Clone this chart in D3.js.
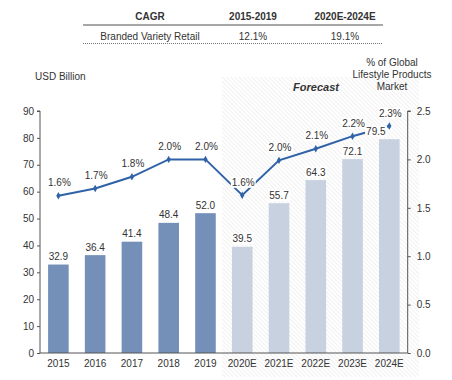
<!DOCTYPE html>
<html><head><meta charset="utf-8">
<script src="https://cdn.jsdelivr.net/npm/d3@7"></script>
<style>
body{margin:0;background:#fff;}
svg{font-family:"Liberation Sans",Arial,Helvetica,sans-serif;}
</style></head>
<body><svg id="c" width="452" height="380"></svg>
<script>
const years = ["2015","2016","2017","2018","2019","2020E","2021E","2022E","2023E","2024E"];
const marketSize = [32.9,36.4,41.4,48.4,52.0,39.5,55.7,64.3,72.1,79.5];
const sharePct = [1.625,1.70,1.82,2.00,2.00,1.63,1.99,2.11,2.24,2.345];
const shareLabels = ["1.6%","1.7%","1.8%","2.0%","2.0%","1.6%","2.0%","2.1%","2.2%","2.3%"];
const forecastYears = ["2020E","2021E","2022E","2023E","2024E"];
const leftTicks = [0,10,20,30,40,50,60,70,80,90];
const rightTicks = [0,0.5,1.0,1.5,2.0,2.5];
const cagrHeader = ["CAGR","2015-2019","2020E-2024E"];
const cagrRow = ["Branded Variety Retail","12.1%","19.1%"];

const svg = d3.select("#c");
const L = 40, R = 407.7, T = 111, B = 353;
const x = d3.scaleBand().domain(years).range([L,R]).paddingInner(0.44).paddingOuter(0.22);
const yL = d3.scaleLinear().domain([0,90]).range([B,T]);
const yR = d3.scaleLinear().domain([0,2.5]).range([B,T]);
const txt = "#333", axc = "#555";

// hatch pattern
const defs = svg.append("defs");
const pat = defs.append("pattern").attr("id","hatch").attr("patternUnits","userSpaceOnUse")
  .attr("width",3).attr("height",3).attr("patternTransform","rotate(-45)");
pat.append("rect").attr("width",3).attr("height",3).attr("fill","#fff");
pat.append("line").attr("x1",0).attr("y1",0).attr("x2",0).attr("y2",3).attr("stroke","#e6e6e6").attr("stroke-width",1.1);

// forecast region
const fx0 = x(forecastYears[0]) - (x.step()-x.bandwidth())/2 - 2;
svg.append("rect").attr("x",fx0).attr("y",77).attr("width",419-fx0).attr("height",300).attr("fill","url(#hatch)");
svg.append("text").attr("x",316).attr("y",91).attr("text-anchor","middle")
  .attr("font-size",11).attr("font-weight","bold").attr("font-style","italic").attr("fill",txt).text("Forecast");

// table
const colX = [150,253,345];
cagrHeader.forEach((t,i)=>svg.append("text").attr("x",colX[i]).attr("y",19.5).attr("text-anchor","middle")
  .attr("font-size",10).attr("font-weight","bold").attr("fill",txt).text(t));
svg.append("line").attr("x1",83).attr("x2",383).attr("y1",25).attr("y2",25).attr("stroke","#8a8a8a").attr("stroke-width",1.5);
cagrRow.forEach((t,i)=>svg.append("text").attr("x",colX[i]).attr("y",39.5).attr("text-anchor","middle")
  .attr("font-size",10).attr("fill",txt).text(t));
svg.append("line").attr("x1",83).attr("x2",383).attr("y1",43.5).attr("y2",43.5).attr("stroke","#555").attr("stroke-width",0.8).attr("stroke-dasharray","1,1");

// axis titles
svg.append("text").attr("x",35).attr("y",79.5).attr("font-size",10).attr("fill",txt).text("USD Billion");
["% of Global","Lifestyle Products","Market"].forEach((t,i)=>svg.append("text").attr("x",392).attr("y",66+i*12)
  .attr("text-anchor","middle").attr("font-size",10).attr("fill",txt).text(t));

// bars
svg.append("g").selectAll("rect").data(years).join("rect")
  .attr("x",d=>x(d)).attr("width",x.bandwidth())
  .attr("y",(d,i)=>yL(marketSize[i])).attr("height",(d,i)=>B-yL(marketSize[i]))
  .attr("fill",d=>forecastYears.includes(d)?"#c7d1e0":"#7590b8");

// axes
const gl = svg.append("g").attr("transform",`translate(${L},0)`)
  .call(d3.axisLeft(yL).tickValues(leftTicks).tickSize(3).tickPadding(3));
const gr = svg.append("g").attr("transform",`translate(${R},0)`)
  .call(d3.axisRight(yR).tickValues(rightTicks).tickFormat(d3.format(".1f")).tickSize(3).tickPadding(6));
const gx = svg.append("g").attr("transform",`translate(0,${B})`)
  .call(d3.axisBottom(x).tickSize(0).tickPadding(7));
[gl,gr,gx].forEach(g=>{
  g.selectAll("text").attr("font-size",10).attr("fill",txt).attr("font-family","Liberation Sans,Arial,sans-serif");
  g.selectAll("line").attr("stroke",axc);
  g.select(".domain").attr("stroke",axc);
});
gl.select(".domain").attr("d",`M-3,${T}H0V${B}`);
gr.select(".domain").attr("d",`M3,${T}H0V${B}`);
gx.select(".domain").attr("d",`M${L},0H${R}`);

// line
const cx = d=>x(d)+x.bandwidth()/2;
const line = d3.line().x((d,i)=>cx(years[i])).y(d=>yR(d));
svg.append("path").datum(sharePct).attr("d",line).attr("fill","none").attr("stroke","#2f62a8").attr("stroke-width",2);
svg.append("g").selectAll("path").data(sharePct).join("path")
  .attr("d",d3.symbol(d3.symbolDiamond,16))
  .attr("transform",(d,i)=>`translate(${cx(years[i])},${yR(d)})`).attr("fill","#2f62a8");

// labels with white background
function label(xp,yc,t){
  const g = svg.append("g");
  const tt = g.append("text").attr("x",xp).attr("y",yc+3.6).attr("text-anchor","middle").attr("font-size",10).attr("fill",txt).text(t);
  const bb = tt.node().getBBox();
  g.insert("rect","text").attr("x",bb.x-1).attr("y",bb.y).attr("width",bb.width+2).attr("height",bb.height).attr("fill","#fff");
}
marketSize.forEach((v,i)=>{
  const dx = years[i]==="2024E" ? -13.5 : 0;
  label(cx(years[i])+dx, yL(v)-8, d3.format(".1f")(v));
});
sharePct.forEach((v,i)=>label(cx(years[i])+1, yR(v)-13, shareLabels[i]));
</script></body></html>
